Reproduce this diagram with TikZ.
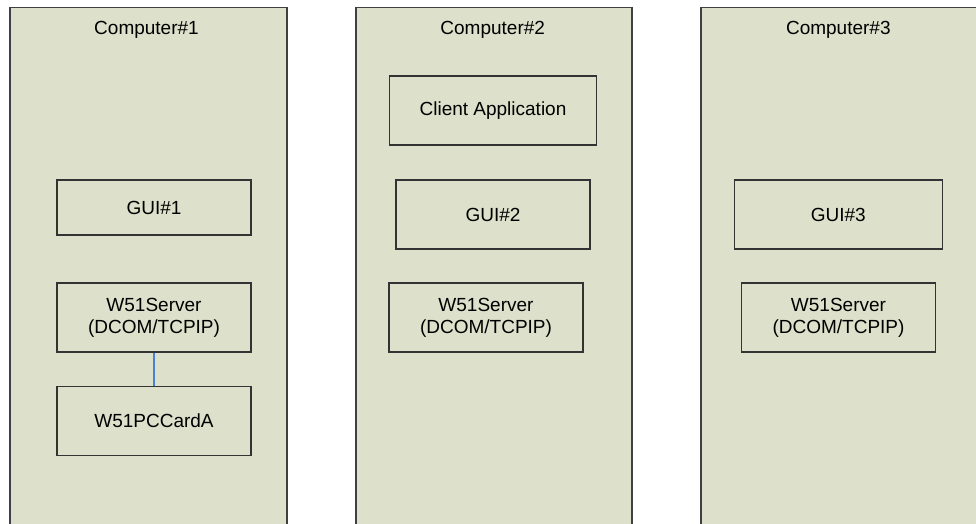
\documentclass[tikz,border=0pt]{standalone}
\usepackage{fontspec}
\setmainfont{Liberation Sans}
\definecolor{panelfill}{HTML}{DDE0CA}
\definecolor{edge}{HTML}{404040}
\definecolor{linkblue}{HTML}{4A7FD9}
\begin{document}
\begin{tikzpicture}[x=1pt,y=-1pt,
  panel/.style={draw=edge, line width=1.5pt, fill=panelfill, anchor=north west, inner sep=0pt},
  compbox/.style={draw=black!80, line width=1.4pt, fill=panelfill, align=center, inner sep=0pt,
    font=\fontsize{19}{22}\selectfont},
  ttl/.style={inner sep=0pt, anchor=base, font=\fontsize{19}{22}\selectfont},
  link/.style={draw=linkblue, line width=1.1pt}]
\useasboundingbox (0,0) rectangle (976,524);
\clip (0,0) rectangle (976,524);
\fill[white] (0,0) rectangle (976,524);
\node[panel, minimum width=277, minimum height=540] (c1) at (9,7) {};
\node[panel, minimum width=276, minimum height=540] (c2) at (355,7) {};
\node[panel, minimum width=290, minimum height=540] (c3) at (700,7) {};
\node[ttl] (t1) at (146.5,35) {Computer\#1};
\node[ttl] (t2) at (492.7,35) {Computer\#2};
\node[ttl] (t3) at (838.3,35) {Computer\#3};
\node[compbox, minimum width=194, minimum height=55] (gui1) at (154,207.5) {GUI\#1};
\node[compbox, minimum width=194, minimum height=69] (srv1) at (154,317.5) {W51Server\\(DCOM/TCPIP)};
\node[compbox, minimum width=194, minimum height=69] (card) at (154,421) {W51PCCardA};
\node[compbox, minimum width=207, minimum height=69] (client) at (493,110.5) {Client Application};
\node[compbox, minimum width=194, minimum height=69] (gui2) at (493,214.5) {GUI\#2};
\node[compbox, minimum width=194, minimum height=69] (srv2) at (486,317.5) {W51Server\\(DCOM/TCPIP)};
\node[compbox, minimum width=208, minimum height=69] (gui3) at (838.3,214.5) {GUI\#3};
\node[compbox, minimum width=194, minimum height=69] (srv3) at (838.5,317.5) {W51Server\\(DCOM/TCPIP)};
\draw[link] (srv1.south) -- (card.north);
\end{tikzpicture}
\end{document}
